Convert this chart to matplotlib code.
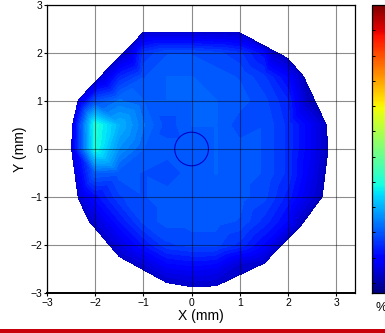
import matplotlib
matplotlib.use('Agg')
import matplotlib.pyplot as plt
import matplotlib.tri as mtri
from matplotlib.path import Path
from matplotlib.patches import Circle, Rectangle
import numpy as np

plt.rcParams['font.family'] = ['Liberation Sans', 'DejaVu Sans']

# Measurement grid (mm) and values (%)
grid_x = [-2.0, -1.5, -1.0, -0.5, 0.0, 0.5, 1.0, 1.5, 2.0, 2.5]
grid_y = [2.0, 1.5, 1.0, 0.5, 0.0, -0.5, -1.0, -1.5, -2.0, -2.5]
nan = np.nan
grid_vals = [
    [nan, 0.9, 1.6, 1.9, 1.9, 1.8, 1.6, 1.1, nan, nan],
    [nan, 1.4, 1.9, 2.1, 2.1, 2.0, 1.9, 1.6, 1.0, nan],
    [1.9, 2.3, 2.1, 2.1, 2.1, 2.1, 2.0, 1.8, 1.4, nan],
    [4.0, 3.0, 2.3, 1.8, 2.1, 2.1, 1.8, 1.9, 1.5, 0.8],
    [3.9, 2.6, 2.1, 2.0, 2.0, 2.1, 2.0, 1.9, 1.5, 0.8],
    [2.1, 2.0, 1.9, 1.8, 2.0, 2.1, 2.0, 1.9, 1.5, 0.7],
    [1.1, 1.7, 1.9, 2.0, 2.0, 2.0, 2.0, 1.8, 1.3, nan],
    [nan, 1.2, 1.8, 2.0, 2.0, 2.0, 1.9, 1.5, 1.0, nan],
    [nan, nan, 1.2, 1.7, 1.8, 1.8, 1.5, 1.0, nan, nan],
    [nan, nan, nan, 0.8, 0.9, 0.8, nan, nan, nan, nan],
]

# Outer boundary of measured zone
edge_x = [-1.0, 0.0, 1.0, 1.7, 1.99, 2.32, 2.40, 2.79, 2.83, 2.71, 2.25, 1.50,
          1.0, 0.51, 0.0, -0.52, -1.0, -1.5, -2.12, -2.35, -2.49, -2.47, -2.35,
          -1.9, -1.35]
edge_y = [2.43, 2.43, 2.42, 2.0, 1.89, 1.51, 0.99, 0.51, 0.0, -0.99, -1.62,
          -2.38, -2.43, -2.85, -2.87, -2.78, -2.5, -2.24, -1.51, -1.03, 0.0,
          0.5, 1.02, 1.5, 2.0]
edge_vals = [0.4, 0.4, 0.3, 0.3, 0.2, 0.2, 0.3, 0.3, 0.2, 0.2, 0.2, 0.3,
             0.4, 0.3, 0.3, 0.3, 0.3, 0.3, 0.3, 0.4, 0.6, 0.7, 0.5,
             0.4, 0.4]

vmin, vmax = -0.4, 11.0
cbar_ticks = list(range(0, 11))

# Build point set
gx, gy = np.meshgrid(grid_x, grid_y)
gv = np.array(grid_vals)
poly = Path(np.column_stack([edge_x, edge_y]))
keep = ~np.isnan(gv) & poly.contains_points(np.column_stack([gx.ravel(), gy.ravel()])).reshape(gv.shape)
px = np.concatenate([gx[keep], edge_x])
py = np.concatenate([gy[keep], edge_y])
pv = np.concatenate([gv[keep], edge_vals])
tri = mtri.Triangulation(px, py)

fig = plt.figure(figsize=(3.85, 3.33), dpi=100)
ax = fig.add_axes([47 / 385, 40 / 333, 308 / 385, 288 / 333])

levels = np.linspace(vmin, vmax, 65)
ax.tricontourf(tri, pv, levels=levels, cmap='jet', vmin=vmin, vmax=vmax)
ax.add_patch(Circle((0, 0), 0.35, fill=False, edgecolor='#0000c8', linewidth=0.8))

ax.set_xlim(-3, 3.39)
ax.set_ylim(-3, 3)
ax.set_xticks(range(-3, 4))
ax.set_yticks(range(-3, 4))
ax.grid(True, color='black', alpha=0.45, linewidth=0.8)
ax.set_axisbelow(False)
ax.tick_params(labelsize=7.5, length=2, width=0.8, pad=1.5, direction='out')
for s in ax.spines.values():
    s.set_linewidth(0.9)
ax.spines['bottom'].set_linewidth(1.4)
ax.set_xlabel('X (mm)', fontsize=10, labelpad=1)
ax.set_ylabel('Y (mm)', fontsize=10, labelpad=2)

# Colorbar, partly outside the figure as in the original (labels fall off-image)
cax = fig.add_axes([372 / 385, 40 / 333, 22 / 385, 288 / 333])
sm = plt.cm.ScalarMappable(norm=plt.Normalize(vmin, vmax), cmap='jet')
cb = fig.colorbar(sm, cax=cax, ticks=cbar_ticks)
cb.outline.set_linewidth(0.9)
cax.yaxis.set_ticks_position('both')
cax.tick_params(direction='in', length=2.5, width=0.7, labelright=False)
fig.text(376 / 385, 1 - 308 / 333, '%', fontsize=9, ha='left', va='center')

# Red rule at the bottom
fig.add_artist(Rectangle((0, 0), 1, 4 / 333, transform=fig.transFigure,
                         color='#c8000a', linewidth=0))

fig.savefig('out.png', dpi=100)
